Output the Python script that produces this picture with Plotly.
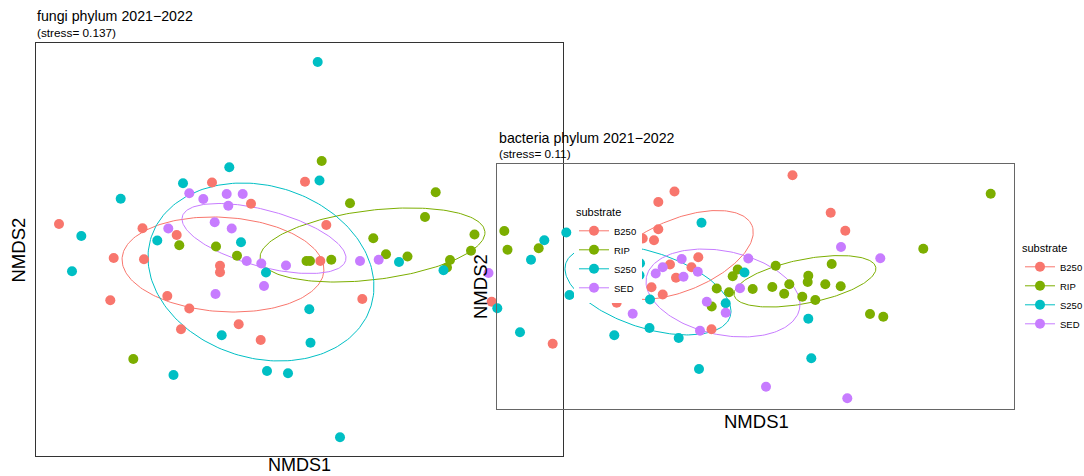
import numpy as np
import plotly.graph_objects as go

groups = ["B250", "RIP", "S250", "SED"]
colors = {"B250": "#F8766D", "RIP": "#7CAE00", "S250": "#00BFC4", "SED": "#C77CFF"}

# ---------------- fungi NMDS scores ----------------
fungi_B250_x = [-0.88, 0.05, -0.49, 0.263, -2.41, -1.575, -1.233, -1.863, -1.56, -0.80,
                -0.80, 0.203, -1.327, -1.897, -1.107, 0.623, -0.613, -1.19, -0.393, 1.917]
fungi_B250_y = [0.675, 0.683, 0.463, 0.25, 0.26, 0.217, 0.15, -0.08, -0.093, -0.157,
                -0.223, -0.11, -0.46, -0.503, -0.585, -0.49, -0.743, -0.793, -0.90, -0.517]
fungi_RIP_x = [0.217, 0.50, 1.357, 1.25, 0.733, 1.745, 1.71, 0.86, 1.075, 1.50, 1.47,
               -1.207, -0.84, -0.63, 0.065, 0.10, 0.313, -1.667, 2.043, 2.075, 2.387]
fungi_RIP_y = [0.89, 0.467, 0.577, 0.33, 0.117, 0.155, -0.007, -0.043, -0.065, -0.10, -0.175,
               0.047, 0.035, -0.058, -0.11, -0.11, -0.097, -1.09, 0.19, 0.003, 0.018]
fungi_S250_x = [0.177, -0.707, -1.17, 0.195, -1.793, -2.187, -1.427, -0.59, -2.28, -0.34, 0.99,
                1.435, 0.093, -0.783, 0.105, -1.265, -0.33, -0.12, 0.40, 1.973, 2.31]
fungi_S250_y = [1.88, 0.827, 0.667, 0.695, 0.513, 0.14, 0.095, 0.077, -0.213, -0.225, -0.12,
                -0.203, -0.593, -0.852, -0.927, -1.25, -1.21, -1.232, -1.873, -0.583, -0.097]
fungi_SED_x = [-1.107, -0.967, -0.733, -0.573, -0.717, -0.853, -1.317, -0.683, -0.533, -0.387,
               -0.14, 0.60, 0.787, -0.36, -0.845, 1.885]
fungi_SED_y = [0.567, 0.51, 0.56, 0.56, 0.443, 0.277, 0.215, 0.215, -0.11, -0.135,
               -0.155, -0.11, -0.097, -0.36, -0.44, -0.23]

# ellipse parameters: centre x, centre y, semi-axis a, semi-axis b, angle (deg)
fungi_ellipses = {
    "B250": (-0.77, -0.145, 1.011, 0.472, -3.6),
    "RIP": (0.725, 0.05, 1.132, 0.347, 6.9),
    "S250": (-0.39, -0.22, 1.152, 0.861, -17.1),
    "SED": (-0.36, 0.115, 0.846, 0.282, -15.1),
}

# ---------------- bacteria NMDS scores ----------------
bact_B250_x = [0.365, -0.815, -0.977, 0.747, 0.893, -0.977, -1.133, -1.02, -0.577, -0.86,
               -0.645, -0.80, -1.045, -0.933, -1.393, -0.445, -2.033]
bact_B250_y = [1.107, 0.945, 0.84, 0.733, 0.553, 0.567, 0.475, 0.457, 0.287, 0.215,
               0.187, 0.083, -0.013, -0.085, -0.167, -0.433, -0.578]
bact_RIP_x = [2.347, 1.673, -0.183, -0.233, -0.393, -0.27, -0.033, 0.197, 0.163, 0.282, 0.333,
              0.523, 0.517, 0.463, 0.593, 0.693, 0.847, 0.757, 1.14, 1.273, -0.443]
bact_RIP_y = [0.923, 0.373, 0.165, 0.097, -0.025, -0.063, -0.03, 0.202, -0.01, -0.078, 0.017,
              0.103, 0.04, -0.107, -0.14, 0.017, -0.003, 0.22, -0.28, -0.307, -0.205]
bact_S250_x = [-1.29, -0.545, -1.897, -2.117, -1.16, -1.165, -1.865, -1.06, -0.303, -0.115,
               -2.36, -1.417, -1.065, -0.773, 0.523, 0.553, -0.57]
bact_S250_y = [0.78, 0.632, 0.535, 0.457, 0.227, 0.107, -0.09, -0.135, -0.173, 0.135,
               -0.462, -0.492, -0.42, -0.52, -0.327, -0.723, -0.83]
bact_SED_x = [-0.743, -0.933, -1.003, -0.725, -0.582, -0.492, -0.303, -1.233, -0.56, -0.077,
              -0.16, 0.85, 1.243, 0.10, 0.913]
bact_SED_y = [0.27, 0.187, 0.125, 0.092, 0.143, -0.158, -0.267, -0.277, -0.447, 0.275,
              -0.023, 0.39, 0.277, -1.007, -1.123]

bact_ellipses = {
    "B250": (-0.76, 0.31, 0.778, 0.36, 22.3),
    "RIP": (0.49, 0.047, 0.722, 0.22, 11.2),
    "S250": (-1.08, -0.04, 0.864, 0.38, -18.0),
    "SED": (-0.33, -0.07, 0.782, 0.418, -11.9),
}

fungi_pts = {
    "B250": (fungi_B250_x, fungi_B250_y),
    "RIP": (fungi_RIP_x, fungi_RIP_y),
    "S250": (fungi_S250_x, fungi_S250_y),
    "SED": (fungi_SED_x, fungi_SED_y),
}
bact_pts = {
    "B250": (bact_B250_x, bact_B250_y),
    "RIP": (bact_RIP_x, bact_RIP_y),
    "S250": (bact_S250_x, bact_S250_y),
    "SED": (bact_SED_x, bact_SED_y),
}

W, H = 1084, 476


def px_x(p):
    return p / W


def px_y(p):
    return 1 - p / H


def ellipse(cx, cy, a, b, ang):
    t = np.linspace(0, 2 * np.pi, 200)
    th = np.deg2rad(ang)
    x = cx + a * np.cos(th) * np.cos(t) - b * np.sin(th) * np.sin(t)
    y = cy + a * np.sin(th) * np.cos(t) + b * np.cos(th) * np.sin(t)
    return x, y


fig = go.Figure()

# bacteria panel (x2, y2) drawn first
for g in groups:
    ex, ey = ellipse(*bact_ellipses[g])
    fig.add_trace(go.Scatter(x=ex, y=ey, mode="lines", line=dict(color=colors[g], width=1),
                             xaxis="x2", yaxis="y2", showlegend=False, hoverinfo="skip"))
for g in groups:
    x, y = bact_pts[g]
    fig.add_trace(go.Scatter(x=x, y=y, mode="markers", marker=dict(color=colors[g], size=10),
                             xaxis="x2", yaxis="y2", showlegend=False, name=g))
for g in groups:
    fig.add_trace(go.Scatter(x=[None], y=[None], mode="lines+markers", name=g,
                             marker=dict(color=colors[g], size=10),
                             line=dict(color=colors[g], width=1),
                             xaxis="x2", yaxis="y2", legend="legend2"))

# fungi panel (x, y)
for g in groups:
    ex, ey = ellipse(*fungi_ellipses[g])
    fig.add_trace(go.Scatter(x=ex, y=ey, mode="lines", line=dict(color=colors[g], width=1),
                             xaxis="x", yaxis="y", showlegend=False, hoverinfo="skip"))
for g in groups:
    x, y = fungi_pts[g]
    fig.add_trace(go.Scatter(x=x, y=y, mode="markers", marker=dict(color=colors[g], size=10),
                             xaxis="x", yaxis="y", showlegend=False, name=g))
for g in groups:
    fig.add_trace(go.Scatter(x=[None], y=[None], mode="lines+markers", name=g,
                             marker=dict(color=colors[g], size=10),
                             line=dict(color=colors[g], width=1),
                             xaxis="x", yaxis="y", legend="legend"))

ax_common = dict(showgrid=False, zeroline=False, showticklabels=False, ticks="",
                 showline=True, mirror=True)

fig.update_layout(
    width=W, height=H,
    margin=dict(l=0, r=0, t=0, b=0, autoexpand=False),
    paper_bgcolor="white", plot_bgcolor="rgba(0,0,0,0)",
    font=dict(family="Liberation Sans, Arial, sans-serif", color="black"),
    xaxis=dict(domain=[px_x(35.7), px_x(562.7)], range=[-2.643, 2.627],
               linecolor="#333333", linewidth=1.3, **ax_common),
    yaxis=dict(domain=[px_y(456.3), px_y(43.3)], range=[-2.063, 2.067],
               linecolor="#333333", linewidth=1.3, **ax_common),
    xaxis2=dict(domain=[px_x(497.3), px_x(1014.3)], range=[-2.587, 2.583], anchor="y2",
                linecolor="#666666", linewidth=1, **ax_common),
    yaxis2=dict(domain=[px_y(409.3), px_y(164.3)], range=[-1.233, 1.217], anchor="x2",
                linecolor="#666666", linewidth=1, **ax_common),
    legend=dict(x=px_x(574), y=px_y(202), xanchor="left", yanchor="top",
                bgcolor="white", borderwidth=0,
                title=dict(text="substrate", font=dict(size=11)),
                font=dict(size=9.5), tracegroupgap=0),
    legend2=dict(x=px_x(1020), y=px_y(238), xanchor="left", yanchor="top",
                 bgcolor="rgba(255,255,255,0)", borderwidth=0,
                 title=dict(text="substrate", font=dict(size=11)),
                 font=dict(size=9.5), tracegroupgap=0),
    showlegend=True,
)

ann = [
    dict(text="fungi phylum 2021\u22122022", x=px_x(35), y=px_y(16.5), font=dict(size=14.2),
         xanchor="left", yanchor="middle"),
    dict(text="(stress= 0.137)", x=px_x(35), y=px_y(33), font=dict(size=11.8),
         xanchor="left", yanchor="middle"),
    dict(text="NMDS1", x=px_x(299), y=px_y(464.5), font=dict(size=18),
         xanchor="center", yanchor="middle"),
    dict(text="NMDS2", x=px_x(17.5), y=px_y(250), font=dict(size=18.5), textangle=-90,
         xanchor="center", yanchor="middle"),
    dict(text="bacteria phylum 2021\u22122022", x=px_x(496.5), y=px_y(137.5), font=dict(size=14.2),
         xanchor="left", yanchor="middle"),
    dict(text="(stress= 0.11)", x=px_x(496.5), y=px_y(154), font=dict(size=11.8),
         xanchor="left", yanchor="middle"),
    dict(text="NMDS1", x=px_x(756), y=px_y(421), font=dict(size=18.5),
         xanchor="center", yanchor="middle"),
    dict(text="NMDS2", x=px_x(480), y=px_y(287), font=dict(size=18.5), textangle=-90,
         xanchor="center", yanchor="middle"),
]
for a in ann:
    a.update(xref="paper", yref="paper", showarrow=False)
fig.update_layout(annotations=ann)

fig.write_html("out.html", config={"displayModeBar": False},
               post_script="document.body.style.margin='0px';document.body.style.overflow='hidden';")
